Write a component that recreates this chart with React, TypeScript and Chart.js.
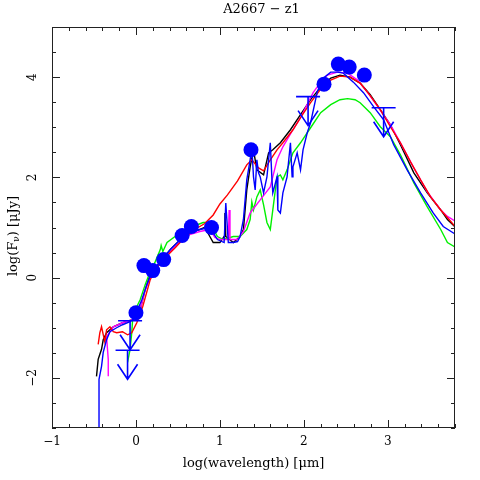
import React, { useEffect, useRef } from "react";
import { Chart, registerables } from "chart.js";

Chart.register(...registerables);

const FONT = "'DejaVu Serif', 'Liberation Serif', serif";

const chartTitle = "A2667 \u2212 z1";
const xTitle = "log(wavelength) [\u03BCm]";
const yTitleMain = "log(F";
const yTitleSub = "\u03BD";
const yTitleEnd = ") [\u03BCJy]";

const xTickValues = [-1, 0, 1, 2, 3];
const yTickValues = [-2, 0, 2, 4];

// observed photometry (blue circles)
const obsX = [0.0, 0.095, 0.2, 0.33, 0.55, 0.66, 0.9, 1.37, 2.24, 2.41, 2.54, 2.72];
const obsY = [-0.7, 0.24, 0.14, 0.36, 0.84, 1.02, 1.0, 2.55, 3.86, 4.26, 4.2, 4.04];

// upper limits (bar + down arrow)
const limX = [-0.07, -0.1, 2.05, 2.95];
const limY = [-0.86, -1.45, 3.61, 3.39];

// model SEDs
const blackX = [-0.47, -0.45, -0.43, -0.41, -0.39, -0.35, -0.27, -0.16, -0.04, 0.05, 0.11, 0.17, 0.29, 0.41, 0.53, 0.64, 0.76, 0.82, 0.88, 0.92, 1.0, 1.05, 1.06, 1.07, 1.16, 1.24, 1.28, 1.32, 1.36, 1.4, 1.44, 1.52, 1.58, 1.63, 1.72, 1.84, 1.96, 2.08, 2.2, 2.32, 2.43, 2.55, 2.67, 2.79, 2.91, 3.03, 3.15, 3.31, 3.47, 3.63, 3.71, 3.81];
const blackY = [-1.97, -1.63, -1.53, -1.43, -1.24, -1.1, -0.98, -0.9, -0.84, -0.64, -0.24, 0.06, 0.32, 0.56, 0.76, 0.9, 0.96, 1.0, 0.82, 0.7, 0.7, 0.82, 1.29, 0.82, 0.7, 0.82, 0.96, 1.75, 2.21, 2.55, 2.15, 2.05, 2.49, 2.55, 2.69, 2.95, 3.25, 3.55, 3.8, 3.98, 4.04, 4.0, 3.88, 3.65, 3.35, 3.05, 2.65, 2.09, 1.69, 1.35, 1.16, 1.0];

const redX = [-0.45, -0.43, -0.41, -0.37, -0.35, -0.31, -0.27, -0.23, -0.16, -0.1, -0.05, 0.01, 0.08, 0.17, 0.23, 0.35, 0.47, 0.58, 0.7, 0.82, 0.92, 1.0, 1.09, 1.21, 1.32, 1.38, 1.46, 1.52, 1.6, 1.68, 1.75, 1.87, 1.96, 2.08, 2.2, 2.32, 2.43, 2.55, 2.67, 2.79, 2.91, 3.03, 3.15, 3.27, 3.39, 3.51, 3.63, 3.75, 3.81];
const redY = [-1.33, -1.1, -0.98, -1.29, -1.04, -0.98, -1.08, -1.1, -1.08, -1.14, -1.1, -0.9, -0.58, -0.04, 0.16, 0.4, 0.6, 0.8, 0.96, 1.08, 1.25, 1.47, 1.65, 1.93, 2.25, 2.35, 2.19, 2.13, 2.35, 2.55, 2.69, 2.95, 3.19, 3.49, 3.76, 3.94, 4.02, 4.0, 3.88, 3.63, 3.35, 3.01, 2.69, 2.31, 1.95, 1.61, 1.35, 1.12, 1.0];

const magX = [-0.33, -0.33, -0.35, -0.27, -0.16, -0.04, 0.05, 0.11, 0.17, 0.29, 0.41, 0.53, 0.64, 0.76, 0.88, 0.94, 1.0, 1.1, 1.11, 1.12, 1.21, 1.28, 1.36, 1.48, 1.6, 1.68, 1.75, 1.87, 1.96, 2.11, 2.2, 2.28, 2.4, 2.52, 2.64, 2.76, 2.88, 3.03, 3.15, 3.31, 3.47, 3.63, 3.71, 3.81];
const magY = [-1.97, -1.63, -1.18, -0.98, -0.9, -0.84, -0.64, -0.24, 0.0, 0.3, 0.52, 0.72, 0.86, 0.92, 0.96, 0.8, 0.76, 0.76, 1.35, 0.76, 0.76, 0.92, 1.29, 1.55, 1.81, 2.35, 2.61, 2.95, 3.19, 3.69, 3.9, 4.04, 4.1, 4.08, 3.94, 3.69, 3.41, 3.05, 2.69, 2.19, 1.71, 1.35, 1.22, 1.12];

const greenX = [-0.1, -0.07, -0.05, -0.04, 0.01, 0.05, 0.11, 0.17, 0.23, 0.29, 0.3, 0.32, 0.37, 0.53, 0.68, 0.8, 0.88, 0.97, 1.04, 1.16, 1.24, 1.32, 1.36, 1.38, 1.4, 1.44, 1.48, 1.52, 1.56, 1.6, 1.63, 1.68, 1.72, 1.75, 1.8, 1.87, 1.96, 2.08, 2.2, 2.32, 2.43, 2.52, 2.61, 2.67, 2.79, 2.91, 3.03, 3.15, 3.31, 3.47, 3.63, 3.71, 3.81];
const greenY = [-1.69, -1.43, -1.1, -0.84, -0.58, -0.44, -0.14, 0.12, 0.32, 0.56, 0.64, 0.52, 0.7, 0.9, 1.02, 1.1, 1.1, 0.82, 0.76, 0.82, 0.82, 0.96, 1.16, 1.51, 1.35, 1.61, 1.75, 1.45, 1.1, 0.96, 1.35, 2.01, 2.05, 1.95, 2.15, 2.49, 2.69, 2.99, 3.29, 3.45, 3.55, 3.57, 3.55, 3.49, 3.29, 3.01, 2.81, 2.45, 1.89, 1.41, 0.96, 0.7, 0.6];

const blueX = [-0.44, -0.44, -0.41, -0.39, -0.35, -0.31, -0.23, -0.16, -0.07, -0.01, 0.02, 0.07, 0.13, 0.19, 0.29, 0.41, 0.53, 0.64, 0.76, 0.88, 0.97, 1.05, 1.07, 1.1, 1.16, 1.21, 1.24, 1.28, 1.3, 1.32, 1.36, 1.38, 1.4, 1.42, 1.44, 1.46, 1.48, 1.52, 1.56, 1.6, 1.62, 1.63, 1.68, 1.69, 1.72, 1.75, 1.8, 1.84, 1.86, 1.87, 1.92, 1.96, 1.99, 2.04, 2.08, 2.16, 2.23, 2.32, 2.4, 2.47, 2.59, 2.71, 2.83, 2.95, 3.07, 3.23, 3.39, 3.54, 3.66, 3.81];
const blueY = [-3.3, -2.03, -1.77, -1.49, -1.24, -1.08, -1.0, -0.94, -0.88, -0.8, -0.64, -0.44, -0.14, 0.12, 0.32, 0.56, 0.76, 0.9, 0.96, 1.0, 0.76, 0.7, 1.49, 0.7, 0.7, 0.72, 0.82, 1.16, 1.55, 1.95, 2.35, 2.61, 2.01, 1.75, 2.35, 2.09, 2.01, 1.69, 2.01, 2.69, 1.95, 1.69, 2.01, 1.35, 1.29, 1.69, 2.01, 2.69, 2.01, 2.21, 2.49, 2.15, 2.55, 2.89, 3.09, 3.71, 3.98, 4.1, 4.1, 4.08, 3.9, 3.69, 3.41, 3.15, 2.65, 2.15, 1.69, 1.29, 1.02, 0.86];

function pts(xs: number[], ys: number[]) {
  return xs.map((x, i) => ({ x, y: ys[i] }));
}

function curve(label: string, xs: number[], ys: number[], color: string) {
  return {
    label,
    data: pts(xs, ys),
    showLine: true,
    borderColor: color,
    backgroundColor: color,
    borderWidth: 1.4,
    pointRadius: 0,
    tension: 0,
  };
}

const fmt = (v: number) => (v < 0 ? "\u2212" + Math.abs(v) : String(v));

export default function App() {
  const ref = useRef<HTMLCanvasElement | null>(null);

  useEffect(() => {
    const canvas = ref.current;
    if (!canvas) return;

    const decor = {
      id: "decor",
      afterDatasetsDraw(chart: any) {
        const { ctx, chartArea: a, scales } = chart;
        const xs = scales.x;
        const ys = scales.y;
        ctx.save();
        // upper limits
        ctx.strokeStyle = "#0000ff";
        ctx.lineWidth = 1.6;
        limX.forEach((lx, i) => {
          const px = xs.getPixelForValue(lx);
          const py = ys.getPixelForValue(limY[i]);
          ctx.beginPath();
          ctx.moveTo(px - 12, py);
          ctx.lineTo(px + 12, py);
          ctx.moveTo(px, py);
          ctx.lineTo(px, py + 29);
          ctx.moveTo(px - 10, py + 14);
          ctx.lineTo(px, py + 29);
          ctx.lineTo(px + 10, py + 14);
          ctx.stroke();
        });
        // frame
        ctx.strokeStyle = "#222";
        ctx.lineWidth = 1;
        ctx.strokeRect(a.left + 0.5, a.top + 0.5, a.right - a.left - 1, a.bottom - a.top - 1);
        // inward ticks, all four sides
        ctx.beginPath();
        for (let k = -5; k <= 19; k++) {
          const v = k / 5;
          const px = Math.round(xs.getPixelForValue(v)) + 0.5;
          const len = k % 5 === 0 ? 8 : 4;
          ctx.moveTo(px, a.bottom);
          ctx.lineTo(px, a.bottom - len);
          ctx.moveTo(px, a.top);
          ctx.lineTo(px, a.top + len);
        }
        for (let k = -6; k <= 10; k++) {
          const v = k / 2;
          const py = Math.round(ys.getPixelForValue(v)) + 0.5;
          const len = k % 4 === 0 ? 8 : 4;
          ctx.moveTo(a.left, py);
          ctx.lineTo(a.left + len, py);
          ctx.moveTo(a.right, py);
          ctx.lineTo(a.right - len, py);
        }
        ctx.stroke();
        ctx.restore();
      },
      afterDraw(chart: any) {
        const { ctx, chartArea: a } = chart;
        ctx.save();
        ctx.fillStyle = "#000";
        // title
        ctx.font = `13px ${FONT}`;
        ctx.textAlign = "center";
        ctx.textBaseline = "middle";
        ctx.fillText(chartTitle, (a.left + a.right) / 2 + 8, 10);
        // y-axis title with subscript
        ctx.translate(14, 236);
        ctx.rotate(-Math.PI / 2);
        ctx.textAlign = "left";
        ctx.font = `13px ${FONT}`;
        const w1 = ctx.measureText(yTitleMain).width;
        const w3 = ctx.measureText(yTitleEnd).width;
        ctx.font = `9px ${FONT}`;
        const w2 = ctx.measureText(yTitleSub).width;
        const start = -(w1 + w2 + w3) / 2;
        ctx.font = `13px ${FONT}`;
        ctx.fillText(yTitleMain, start, 0);
        ctx.font = `9px ${FONT}`;
        ctx.fillText(yTitleSub, start + w1, 3);
        ctx.font = `13px ${FONT}`;
        ctx.fillText(yTitleEnd, start + w1 + w2, 0);
        ctx.restore();
      },
    };

    const chart = new Chart(canvas, {
      type: "scatter",
      data: {
        datasets: [
          {
            label: "observed",
            data: pts(obsX, obsY),
            pointRadius: 7.5,
            pointBackgroundColor: "#0000ff",
            pointBorderColor: "#0000ff",
            pointBorderWidth: 0,
            showLine: false,
          } as any,
          curve("blue model", blueX, blueY, "#0000ff"),
          curve("red model", redX, redY, "#ff0000"),
          curve("magenta model", magX, magY, "#ff00ff"),
          curve("green model", greenX, greenY, "#00f000"),
          curve("black model", blackX, blackY, "#000000"),
        ],
      },
      options: {
        responsive: false,
        animation: false,
        layout: { padding: { top: 27, right: 25, left: 0, bottom: 0 } },
        plugins: {
          legend: { display: false },
          tooltip: { enabled: false },
          title: { display: false },
        },
        scales: {
          x: {
            type: "linear",
            min: -1,
            max: 3.8,
            grid: { display: false, drawTicks: false },
            border: { display: false },
            afterBuildTicks: (s: any) => {
              s.ticks = xTickValues.map((v) => ({ value: v }));
            },
            afterFit: (s: any) => {
              s.height = 52;
            },
            ticks: {
              autoSkip: false,
              maxRotation: 0,
              padding: 7,
              color: "#000",
              font: { family: FONT, size: 12 },
              callback: (v: any) => fmt(Number(v)),
            },
            title: {
              display: true,
              text: xTitle,
              color: "#000",
              font: { family: FONT, size: 13 },
              padding: { top: 0, bottom: 9 },
            },
          },
          y: {
            type: "linear",
            min: -3,
            max: 5,
            grid: { display: false, drawTicks: false },
            border: { display: false },
            afterBuildTicks: (s: any) => {
              s.ticks = yTickValues.map((v) => ({ value: v }));
            },
            afterFit: (s: any) => {
              s.width = 52;
            },
            ticks: {
              autoSkip: false,
              minRotation: 90,
              maxRotation: 90,
              crossAlign: "center",
              padding: 10,
              color: "#000",
              font: { family: FONT, size: 12 },
              callback: (v: any) => fmt(Number(v)),
            },
          },
        },
      } as any,
      plugins: [decor],
    });

    return () => chart.destroy();
  }, []);

  return (
    <canvas
      ref={ref}
      width={480}
      height={480}
      style={{ position: "absolute", left: 0, top: 0, width: 480, height: 480 }}
    />
  );
}
